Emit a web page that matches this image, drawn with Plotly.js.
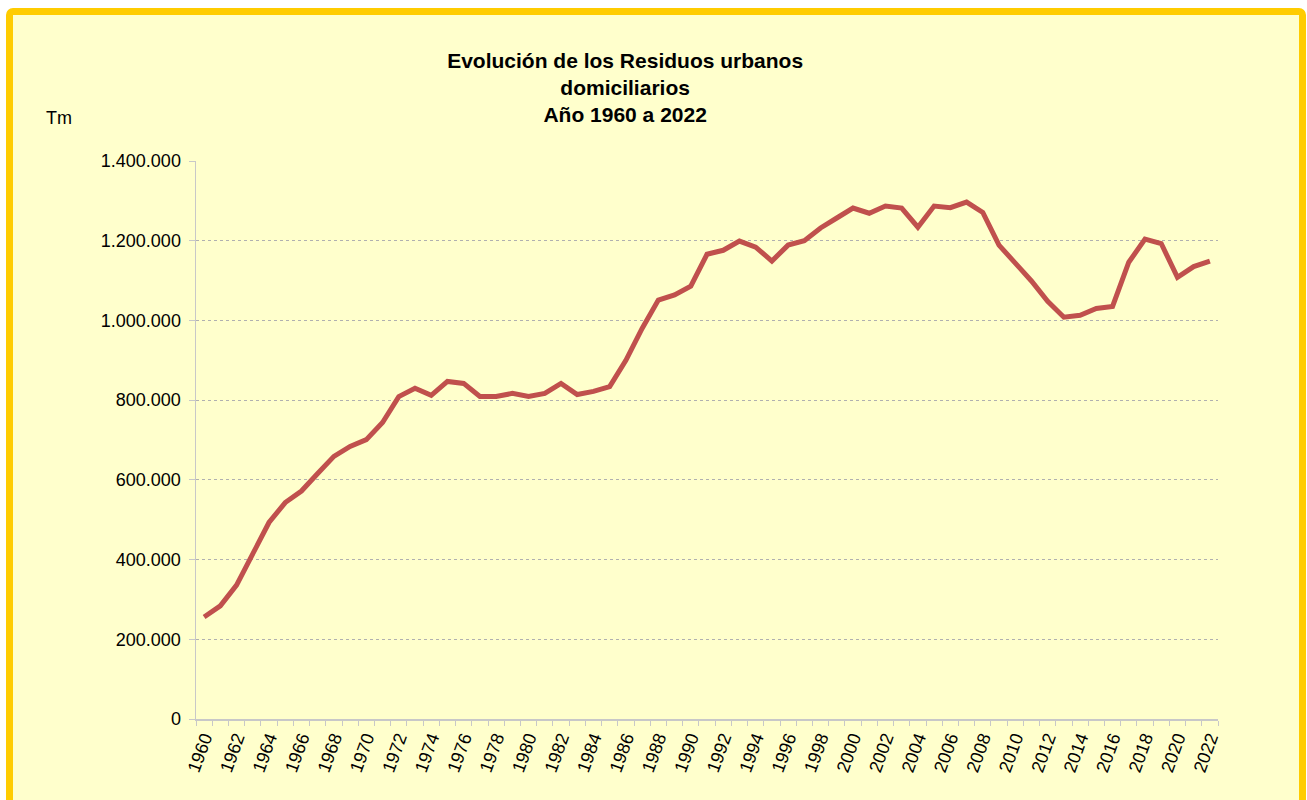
<!DOCTYPE html>
<html>
<head>
<meta charset="utf-8">
<script src="https://cdn.plot.ly/plotly-3.0.1.min.js"></script>
<style>
  html, body { margin: 0; padding: 0; background: #ffffff; overflow: hidden; }
  #frame {
    position: absolute; left: 6px; top: 8px;
    width: 1286px; height: 800px;
    border: 7px solid #FFCC00; border-radius: 7px;
    background: #FFFFCC;
  }
  #chart { width: 1286px; height: 800px; }
</style>
</head>
<body>
<div id="frame"><div id="chart"></div></div>
<script>
// Residuos urbanos domiciliarios (Tm), 1960 - 2022
var years = [];
for (var y = 1960; y <= 2022; y++) years.push(y);

var toneladas = [
  256000, 284000, 336000, 412000, 493000, 543000, 572000, 616000, 659000, 684000,
  701000, 744000, 809000, 830000, 812000, 847000, 842000, 809000, 809000, 817000,
  809000, 817000, 842000, 814000, 822000, 834000, 900000, 980000, 1051000, 1064000,
  1086000, 1166000, 1176000, 1199000, 1184000, 1149000, 1189000, 1200000, 1232000, 1257000,
  1282000, 1269000, 1287000, 1282000, 1234000, 1287000, 1283000, 1297000, 1271000, 1189000,
  1146000, 1099000, 1048000, 1008000, 1013000, 1030000, 1035000, 1146000, 1204000, 1193000,
  1108000, 1135000, 1149000
];

var labelYears = years.filter(function (y) { return y % 2 === 0; });
var yTicks = [0, 200000, 400000, 600000, 800000, 1000000, 1200000, 1400000];

var serie = {
  x: years,
  y: toneladas,
  type: 'scatter',
  mode: 'lines',
  line: { color: '#C0504D', width: 5 },
  hoverinfo: 'x+y'
};

var layout = {
  width: 1286,
  height: 800,
  paper_bgcolor: '#FFFFCC',
  plot_bgcolor: '#FFFFCC',
  separators: ',.',
  font: { family: 'Liberation Sans, Arial, sans-serif', size: 18, color: '#000000' },
  margin: { l: 183, r: 81, t: 146, b: 96 },
  showlegend: false,
  title: {
    text: 'Evolución de los Residuos urbanos<br>domiciliarios<br>Año 1960 a 2022',
    font: { family: 'Liberation Sans, Arial, sans-serif', size: 21, color: '#000000', weight: 'bold' },
    x: 0.476, xanchor: 'center', xref: 'container',
    y: 0.934, yanchor: 'top', yref: 'container'
  },
  xaxis: {
    range: [1959.5, 2022.5],
    tickmode: 'array',
    tickvals: labelYears,
    ticktext: labelYears.map(String),
    tickangle: -70,
    ticks: '',
    showgrid: false,
    zeroline: false,
    showline: true,
    linecolor: '#C8C8C8',
    linewidth: 1.5,
    minor: {
      tickmode: 'array',
      tickvals: years.map(function (y) { return y - 0.5; }).concat([2022.5]),
      ticks: 'outside',
      ticklen: 5,
      tickcolor: '#C8C8C8',
      tickwidth: 1,
      showgrid: false
    },
    tickfont: { size: 18 }
  },
  yaxis: {
    range: [0, 1400000],
    tickmode: 'array',
    tickvals: yTicks,
    tickformat: ',d',
    ticks: 'outside',
    ticklen: 6,
    tickcolor: '#C8C8C8',
    ticklabelstandoff: 4,
    showgrid: true,
    gridcolor: '#B0B0B0',
    griddash: 'dot',
    gridwidth: 1,
    zeroline: false,
    showline: true,
    linecolor: '#C8C8C8',
    linewidth: 1.5,
    tickfont: { size: 18 }
  },
  annotations: [{
    text: 'Tm',
    xref: 'paper', yref: 'paper',
    x: -0.149, y: 1.077,
    xanchor: 'left', yanchor: 'middle',
    showarrow: false,
    font: { size: 18 }
  }]
};

Plotly.newPlot('chart', [serie], layout, { displayModeBar: false, staticPlot: true });
</script>
</body>
</html>
